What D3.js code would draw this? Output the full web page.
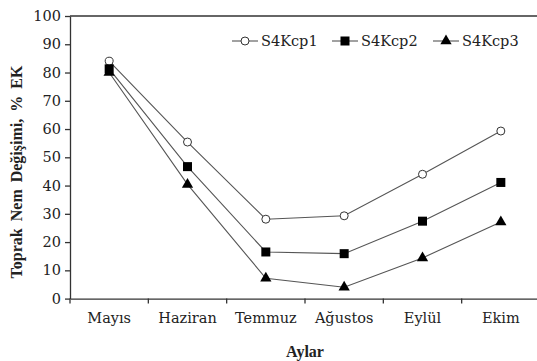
<!DOCTYPE html>
<html>
<head>
<meta charset="utf-8">
<script src="https://cdn.jsdelivr.net/npm/d3@7"></script>
<style>
  body { margin: 0; background: #fff; }
</style>
</head>
<body>
<svg id="chart"></svg>
<script>
// chart data
const months = ["Mayıs", "Haziran", "Temmuz", "Ağustos", "Eylül", "Ekim"];
const cp1 = [84, 55.4, 28.1, 29.3, 44, 59.3];
const cp2 = [81.3, 46.7, 16.5, 15.9, 27.4, 41.1];
const cp3 = [80, 40.4, 7.2, 4.0, 14.4, 27.1];
const yTicks = [0, 10, 20, 30, 40, 50, 60, 70, 80, 90, 100];

const width = 537, height = 361;
const margin = {top: 16, left: 70, bottom: 62.4};
const plotRight = 540;
const FONT = "'DejaVu Serif', 'Liberation Serif', serif";
const TITLE_FONT = "'Liberation Serif', 'Times New Roman', serif";

const svg = d3.select("#chart")
  .attr("width", width)
  .attr("height", height)
  .attr("font-family", FONT);

const x = d3.scaleBand()
  .domain(months)
  .range([margin.left, plotRight]);

const y = d3.scaleLinear()
  .domain([0, 100])
  .range([height - margin.bottom, margin.top]);

const axisColor = "#333";

// top border
svg.append("line")
  .attr("x1", margin.left).attr("x2", plotRight)
  .attr("y1", y(100)).attr("y2", y(100))
  .attr("stroke", axisColor).attr("stroke-width", 1.3);

// y axis
const yAxis = svg.append("g")
  .attr("transform", `translate(${margin.left},0)`)
  .call(d3.axisLeft(y).tickValues(yTicks).tickSize(5).tickPadding(4).tickSizeOuter(0));
yAxis.attr("font-family", FONT).attr("font-size", 14.5);
yAxis.select(".domain").attr("stroke", axisColor).attr("stroke-width", 1.3);
yAxis.selectAll(".tick line").attr("stroke", axisColor).attr("stroke-width", 1.3);
yAxis.selectAll("text").attr("fill", "#222");

// x axis with ticks at category boundaries
const xAxis = svg.append("g")
  .attr("transform", `translate(0,${y(0)})`)
  .call(d3.axisBottom(x).tickSize(0).tickPadding(14).tickSizeOuter(0));
xAxis.attr("font-family", FONT).attr("font-size", 14.5);
xAxis.select(".domain").attr("stroke", axisColor).attr("stroke-width", 1.3);
xAxis.selectAll("text").attr("fill", "#222");
xAxis.selectAll(".bound")
  .data(months)
  .enter()
  .append("line")
  .attr("x1", (d) => x(d)).attr("x2", (d) => x(d))
  .attr("y1", 0).attr("y2", 5)
  .attr("stroke", axisColor).attr("stroke-width", 1.3);

// series
const series = [
  {name: "S4Kcp1", values: cp1, shape: "circle"},
  {name: "S4Kcp2", values: cp2, shape: "square"},
  {name: "S4Kcp3", values: cp3, shape: "triangle"}
];

const cx = (i) => x(months[i]) + x.bandwidth() / 2;

const line = d3.line()
  .x((d, i) => cx(i))
  .y((d) => y(d));

function drawMarker(g, shape, px, py) {
  if (shape === "circle") {
    g.append("circle").attr("cx", px).attr("cy", py).attr("r", 4)
      .attr("fill", "#fff").attr("stroke", "#333").attr("stroke-width", 1);
  } else if (shape === "square") {
    g.append("rect").attr("x", px - 4.5).attr("y", py - 4.5)
      .attr("width", 9).attr("height", 9).attr("fill", "#000");
  } else {
    g.append("path")
      .attr("d", d3.symbol().type(d3.symbolTriangle).size(55)())
      .attr("transform", `translate(${px},${py})`)
      .attr("fill", "#000");
  }
}

series.forEach((s) => {
  const g = svg.append("g");
  g.append("path")
    .datum(s.values)
    .attr("d", line)
    .attr("fill", "none")
    .attr("stroke", "#555")
    .attr("stroke-width", 1.1);
  s.values.forEach((v, i) => drawMarker(g, s.shape, cx(i), y(v)));
});

// legend
const legendX = [232, 332, 433];
const legendY = 41;
series.forEach((s, i) => {
  const g = svg.append("g");
  g.append("line")
    .attr("x1", legendX[i]).attr("x2", legendX[i] + 26)
    .attr("y1", legendY).attr("y2", legendY)
    .attr("stroke", "#555").attr("stroke-width", 1.1);
  drawMarker(g, s.shape, legendX[i] + 13, legendY);
  g.append("text")
    .attr("x", legendX[i] + 29).attr("y", legendY)
    .attr("dy", "0.35em")
    .attr("font-size", 14.5)
    .attr("fill", "#222")
    .text(s.name);
});

// axis titles
svg.append("text")
  .attr("transform", `translate(22,172) rotate(-90)`)
  .attr("text-anchor", "middle")
  .attr("font-family", TITLE_FONT)
  .attr("font-size", 16)
  .attr("font-weight", "bold")
  .attr("fill", "#222")
  .attr("word-spacing", 3)
  .text("Toprak Nem Değişimi, % EK");

svg.append("text")
  .attr("x", (margin.left + plotRight) / 2)
  .attr("y", 357)
  .attr("text-anchor", "middle")
  .attr("font-family", TITLE_FONT)
  .attr("font-size", 16)
  .attr("font-weight", "bold")
  .attr("fill", "#222")
  .text("Aylar");
</script>
</body>
</html>
